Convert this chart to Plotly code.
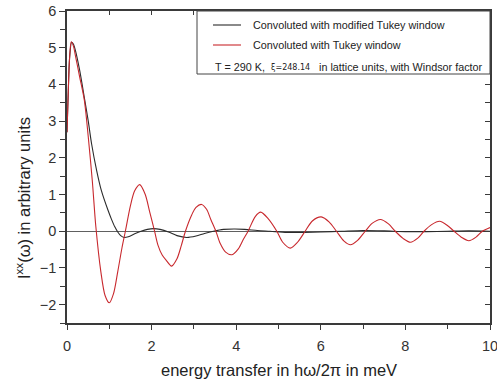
import plotly.graph_objects as go

# ---- data ----
x_tukey = [0.0, 0.03, 0.06, 0.10, 0.15, 0.20, 0.30, 0.41, 0.50, 0.60, 0.68, 0.80, 0.90, 1.00,
           1.10, 1.20, 1.30, 1.38, 1.50, 1.60, 1.72, 1.85, 1.95, 2.07, 2.15, 2.25, 2.35, 2.47,
           2.60, 2.70, 2.80, 2.95, 3.05, 3.18, 3.30, 3.40, 3.52, 3.62, 3.75, 3.90, 4.05, 4.17,
           4.28, 4.45, 4.58, 4.75, 4.96, 5.10, 5.28, 5.45, 5.63, 5.80, 6.01, 6.20, 6.37, 6.55,
           6.70, 6.87, 7.05, 7.22, 7.41, 7.60, 7.76, 7.95, 8.12, 8.30, 8.44, 8.62, 8.81, 9.00,
           9.15, 9.33, 9.50, 9.67, 9.82, 10.0]
y_tukey = [2.70, 3.80, 4.70, 5.16, 5.05, 4.78, 4.20, 3.57, 2.60, 1.35, 0.15, -1.10, -1.75, -1.95,
           -1.70, -1.10, -0.45, 0.00, 0.70, 1.10, 1.27, 1.00, 0.55, 0.00, -0.38, -0.65, -0.80, -0.95,
           -0.75, -0.40, 0.00, 0.45, 0.65, 0.73, 0.60, 0.32, 0.00, -0.33, -0.57, -0.64, -0.48, -0.22,
           0.00, 0.40, 0.52, 0.35, 0.00, -0.30, -0.46, -0.30, 0.00, 0.28, 0.39, 0.25, 0.00, -0.27,
           -0.37, -0.25, 0.00, 0.22, 0.32, 0.20, 0.00, -0.20, -0.30, -0.18, 0.00, 0.18, 0.27, 0.15,
           0.00, -0.17, -0.26, -0.16, 0.00, 0.10]

x_mod = [0.0, 0.03, 0.06, 0.11, 0.15, 0.20, 0.30, 0.42, 0.50, 0.58, 0.70, 0.81, 0.97, 1.05,
         1.13, 1.20, 1.27, 1.35, 1.45, 1.60, 1.75, 1.90, 2.05, 2.20, 2.40, 2.60, 2.83, 3.05,
         3.25, 3.46, 3.70, 3.97, 4.20, 4.50, 4.80, 5.20, 5.60, 6.00, 6.50, 7.00, 7.50, 8.00,
         8.50, 9.00, 9.50, 10.0]
y_mod = [2.70, 3.80, 4.70, 5.15, 5.10, 4.92, 4.38, 3.57, 3.02, 2.39, 1.66, 1.12, 0.57, 0.33,
         0.12, -0.02, -0.12, -0.17, -0.15, -0.07, 0.00, 0.05, 0.07, 0.05, -0.02, -0.12, -0.17, -0.13,
         -0.06, 0.00, 0.05, 0.06, 0.05, 0.02, 0.00, -0.03, -0.03, -0.02, 0.00, 0.02, 0.01, -0.01,
         -0.01, 0.00, 0.01, 0.00]

legend_labels = ["Convoluted with modified Tukey window", "Convoluted with Tukey window"]
x_tick_vals = [0, 2, 4, 6, 8, 10]
y_tick_vals = [-2, -1, 0, 1, 2, 3, 4, 5, 6]

BLACK = "#2b2b2b"
RED = "#c8282d"
AXIS = "#3a3a3a"
FONT = "Liberation Sans, Arial, sans-serif"

fig = go.Figure()
fig.add_trace(go.Scatter(x=x_mod, y=y_mod, mode="lines", line=dict(color=BLACK, width=1.1, shape="spline", smoothing=0.8),
                         name=legend_labels[0], showlegend=False))
fig.add_trace(go.Scatter(x=x_tukey, y=y_tukey, mode="lines", line=dict(color=RED, width=1.1, shape="spline", smoothing=0.8),
                         name=legend_labels[1], showlegend=False))
# helper trace to activate the mirrored (top/right) axes
fig.add_trace(go.Scatter(x=[None], y=[None], xaxis="x2", yaxis="y2", showlegend=False, hoverinfo="skip"))

fig.update_layout(
    width=497, height=379,
    margin=dict(l=67, r=7, t=11, b=56),
    paper_bgcolor="white", plot_bgcolor="white",
    font=dict(family=FONT, color="#222", size=14),
    xaxis=dict(range=[0, 10], tickvals=x_tick_vals, ticks="outside", ticklen=5, tickwidth=1.3,
               tickcolor=AXIS, showline=True, linecolor=AXIS, linewidth=1.6, showgrid=False,
               zeroline=False, tickfont=dict(size=14.5, color="#333"), ticklabeloverflow="allow",
               ticklabelstandoff=4, automargin=False,
               minor=dict(dtick=1, ticks="outside", ticklen=4, tickwidth=1.2, tickcolor=AXIS)),
    yaxis=dict(range=[-2.5, 6], tickvals=y_tick_vals, ticks="outside", ticklen=6, tickwidth=1.3,
               tickcolor=AXIS, showline=True, linecolor=AXIS, linewidth=1.6, showgrid=False,
               zeroline=True, zerolinecolor="#606060", zerolinewidth=1, tickfont=dict(size=14.5, color="#333"),
               automargin=False,
               minor=dict(dtick=0.5, ticks="outside", ticklen=5, tickwidth=1.2, tickcolor=AXIS)),
    xaxis2=dict(range=[0, 10], overlaying="x", side="top", dtick=1, ticks="inside", ticklen=4,
                tickwidth=1.2, tickcolor=AXIS, showticklabels=False, showline=True, linecolor=AXIS,
                linewidth=1.6, showgrid=False, zeroline=False, automargin=False),
    yaxis2=dict(range=[-2.5, 6], overlaying="y", side="right", dtick=0.5, ticks="inside", ticklen=5,
                tickwidth=1.2, tickcolor=AXIS, showticklabels=False, showline=True, linecolor=AXIS,
                linewidth=1.6, showgrid=False, zeroline=False, automargin=False),
)

# ---- helpers: pixel -> paper coords of the plot area ----
def px_x(p):
    return (p - 67) / 423.0

def px_y(p):
    return (323 - p) / 312.0

# axis titles as text annotations
fig.add_annotation(xref="paper", yref="paper", x=px_x(23), y=px_y(198), text="I<sup>xx</sup>(\u03c9) in arbitrary units",
                   showarrow=False, textangle=-90, xanchor="center", yanchor="middle",
                   font=dict(size=16.5, color="#222", family=FONT))
fig.add_annotation(xref="paper", yref="paper", x=px_x(279), y=px_y(370), text="energy transfer in h\u03c9/2\u03c0 in meV",
                   showarrow=False, xanchor="center", yanchor="middle",
                   font=dict(size=16.5, color="#222", family=FONT))

# ---- custom legend box ----
fig.add_shape(type="rect", xref="paper", yref="paper", x0=px_x(197), x1=1.0, y0=px_y(74), y1=1.0,
              line=dict(color="#444", width=1), fillcolor="white", layer="above")
for i, (lab, col) in enumerate(zip(legend_labels, [BLACK, RED])):
    yy = px_y(25 + 20 * i)
    fig.add_shape(type="line", xref="paper", yref="paper", x0=px_x(213), x1=px_x(241), y0=yy, y1=yy,
                  line=dict(color=col, width=1.1), layer="above")
    fig.add_annotation(xref="paper", yref="paper", x=px_x(251), y=yy, text=lab, showarrow=False,
                       xanchor="left", yanchor="middle", font=dict(size=10.8, color="#222", family=FONT))
yy3 = px_y(67)
fig.add_annotation(xref="paper", yref="paper", x=px_x(213), y=yy3, text="T = 290 K,", showarrow=False,
                   xanchor="left", yanchor="middle", font=dict(size=10.8, color="#222", family=FONT))
fig.add_annotation(xref="paper", yref="paper", x=px_x(269), y=yy3, text="\u03be=248.14", showarrow=False,
                   xanchor="left", yanchor="middle", font=dict(size=8, color="#222", family="DejaVu Sans"))
fig.add_annotation(xref="paper", yref="paper", x=px_x(317), y=yy3, text="in lattice units, with Windsor factor",
                   showarrow=False, xanchor="left", yanchor="middle",
                   font=dict(size=10.8, color="#222", family=FONT))

fig.write_html("out.html")
